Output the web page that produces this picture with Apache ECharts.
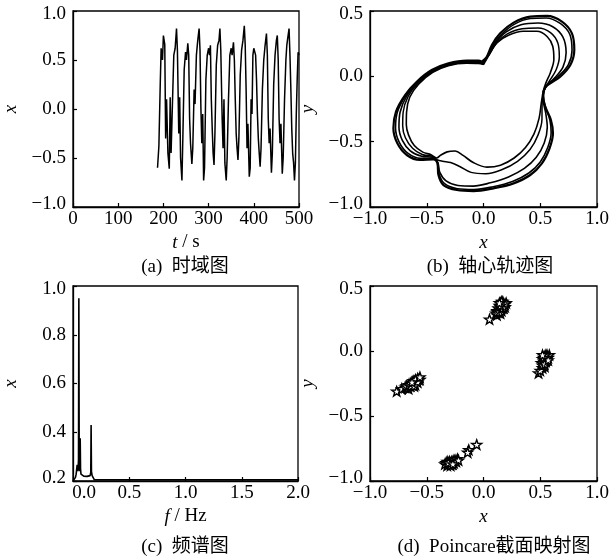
<!DOCTYPE html>
<html>
<head>
<meta charset="utf-8">
<script src="https://cdn.jsdelivr.net/npm/echarts@6/dist/echarts.min.js"></script>
<style>
html, body { margin: 0; padding: 0; background: #fff; }
#chart { width: 612px; height: 557px; }
</style>
</head>
<body>
<div id="chart"></div>
<script>
// ---------- (a) displacement time history: [t (s), x] ----------
const timeSeries = [
  [187,-0.60],[189,-0.58],[190,-0.38],[193,0.25],[195,0.62],[198,0.50],[200,0.75],[203,0.66],
  [205,-0.30],[207,0.10],[210,-0.45],[213,-0.61],[215,0.12],[217,-0.45],[220,0.05],[223,0.55],
  [226,0.62],[229,0.82],[231,0.60],[234,-0.25],[236,0.12],[238,-0.50],[241,-0.73],[243,-0.30],
  [246,0.40],[249,0.58],[251,0.50],[254,0.67],[256,0.55],[258,-0.10],[260,-0.35],[263,-0.56],
  [265,-0.40],[268,0.20],[270,0.05],[273,0.55],[276,0.70],[279,0.82],[281,0.60],[283,0.00],
  [285,-0.35],[287,-0.05],[289,-0.73],[291,-0.60],[294,0.30],[297,0.55],[300,0.62],[302,0.55],
  [304,0.65],[306,0.10],[308,-0.20],[310,-0.45],[312,-0.57],[314,-0.25],[317,0.45],[320,0.65],
  [323,0.70],[325,0.82],[327,0.60],[330,-0.10],[332,-0.40],[334,0.10],[336,-0.55],[339,-0.73],
  [341,-0.50],[344,0.10],[347,0.55],[350,0.62],[352,0.55],[355,0.68],[357,0.50],[359,0.10],
  [361,-0.25],[363,-0.40],[365,-0.52],[367,-0.30],[370,0.35],[373,0.60],[376,0.70],[379,0.85],
  [381,0.65],[383,0.20],[385,-0.40],[387,-0.15],[390,-0.69],[392,-0.60],[394,0.10],[396,-0.05],
  [398,0.55],[400,0.62],[402,0.60],[404,0.55],[406,0.30],[408,-0.05],[410,-0.30],[412,-0.45],
  [414,-0.59],[416,-0.40],[419,0.20],[422,0.50],[425,0.65],[428,0.77],[430,0.55],[432,-0.10],
  [434,-0.35],[436,-0.20],[439,-0.65],[441,-0.45],[444,0.25],[447,0.55],[450,0.70],[452,0.75],
  [454,0.50],[456,-0.10],[458,-0.35],[460,-0.15],[463,-0.66],[465,-0.50],[468,0.10],[471,0.50],
  [473,0.65],[475,0.72],[478,0.82],[480,0.55],[482,0.20],[484,-0.20],[486,-0.45],[488,-0.55],
  [490,-0.73],[492,-0.55],[494,-0.05],[496,0.30],[498,0.58],[500,0.55]
];

// ---------- (b) shaft-centre orbit: successive revolutions [x, y], outermost first ----------
const orbitLoopA = [
  [-0.015,0.112],[0.029,0.150],[0.074,0.240],[0.147,0.329],[0.265,0.411],[0.412,0.457],[0.559,0.462],
  [0.691,0.418],[0.779,0.329],[0.800,0.202],[0.765,0.087],[0.676,-0.003],[0.588,-0.054],[0.544,-0.084],
  [0.524,-0.143],[0.544,-0.232],[0.594,-0.334],[0.612,-0.436],[0.582,-0.551],[0.515,-0.666],[0.412,-0.755],
  [0.265,-0.819],[0.088,-0.857],[-0.088,-0.878],[-0.235,-0.870],[-0.353,-0.832],[-0.397,-0.755],
  [-0.406,-0.666],[-0.441,-0.635],[-0.559,-0.640],[-0.676,-0.602],[-0.759,-0.513],[-0.794,-0.398],
  [-0.771,-0.270],[-0.691,-0.143],[-0.588,-0.041],[-0.456,0.048],[-0.309,0.099],[-0.147,0.120],
  [-0.044,0.120],[-0.015,0.112]
];
const orbitLoopD = [
  [-0.012,0.105],[0.035,0.150],[0.082,0.235],[0.155,0.318],[0.270,0.398],[0.412,0.442],[0.552,0.447],
  [0.676,0.405],[0.760,0.322],[0.780,0.200],[0.748,0.090],[0.665,0.005],[0.585,-0.048],[0.540,-0.090],
  [0.527,-0.150],[0.546,-0.235],[0.585,-0.335],[0.596,-0.430],[0.566,-0.545],[0.500,-0.655],[0.400,-0.740],
  [0.255,-0.805],[0.085,-0.845],[-0.085,-0.866],[-0.230,-0.860],[-0.343,-0.822],[-0.392,-0.748],
  [-0.404,-0.662],[-0.445,-0.628],[-0.555,-0.628],[-0.664,-0.590],[-0.742,-0.505],[-0.775,-0.395],
  [-0.758,-0.272],[-0.684,-0.145],[-0.585,-0.045],[-0.455,0.042],[-0.310,0.093],[-0.150,0.113],
  [-0.045,0.113],[-0.012,0.105]
];
const orbitLoopB = [
  [-0.008,0.100],[0.040,0.158],[0.100,0.250],[0.200,0.340],[0.330,0.395],[0.480,0.408],[0.610,0.380],
  [0.700,0.300],[0.728,0.180],[0.700,0.070],[0.630,-0.010],[0.560,-0.070],[0.530,-0.120],[0.528,-0.190],
  [0.548,-0.280],[0.562,-0.390],[0.535,-0.510],[0.465,-0.620],[0.360,-0.705],[0.220,-0.770],[0.060,-0.815],
  [-0.090,-0.840],[-0.225,-0.835],[-0.330,-0.800],[-0.385,-0.735],[-0.402,-0.660],[-0.448,-0.620],
  [-0.545,-0.612],[-0.645,-0.570],[-0.715,-0.490],[-0.745,-0.390],[-0.735,-0.275],[-0.676,-0.150],
  [-0.582,-0.050],[-0.452,0.038],[-0.310,0.088],[-0.150,0.108],[-0.045,0.108],[-0.008,0.100]
];
const orbitLoopE = [
  [-0.004,0.095],[0.045,0.160],[0.110,0.252],[0.210,0.325],[0.340,0.365],[0.480,0.370],[0.590,0.335],
  [0.655,0.255],[0.668,0.150],[0.640,0.050],[0.585,-0.030],[0.545,-0.085],[0.525,-0.140],[0.516,-0.220],
  [0.515,-0.330],[0.480,-0.450],[0.410,-0.560],[0.300,-0.650],[0.160,-0.715],[0.020,-0.745],[-0.110,-0.735],
  [-0.210,-0.690],[-0.290,-0.660],[-0.360,-0.650],[-0.405,-0.640],[-0.455,-0.612],[-0.540,-0.598],
  [-0.625,-0.550],[-0.688,-0.470],[-0.712,-0.380],[-0.708,-0.275],[-0.665,-0.155],[-0.578,-0.055],
  [-0.450,0.034],[-0.310,0.085],[-0.150,0.104],[-0.045,0.103],[-0.004,0.095]
];
const orbitLoopC = [
  [0.000,0.090],[0.050,0.165],[0.120,0.258],[0.220,0.315],[0.350,0.345],[0.470,0.345],[0.560,0.305],
  [0.610,0.230],[0.620,0.130],[0.590,0.030],[0.550,-0.050],[0.528,-0.110],[0.510,-0.200],[0.490,-0.320],
  [0.445,-0.440],[0.370,-0.545],[0.270,-0.625],[0.150,-0.680],[0.030,-0.695],[-0.090,-0.660],
  [-0.180,-0.605],[-0.250,-0.572],[-0.320,-0.578],[-0.380,-0.605],[-0.412,-0.625],[-0.462,-0.600],
  [-0.535,-0.580],[-0.610,-0.530],[-0.660,-0.450],[-0.680,-0.370],[-0.678,-0.275],[-0.650,-0.160],
  [-0.572,-0.060],[-0.447,0.030],[-0.310,0.081],[-0.150,0.100],[-0.045,0.098],[0.000,0.090]
];

// ---------- (c) amplitude spectrum: [f (Hz), amplitude] ----------
const spectrum = [
  [0.000,0.200],[0.008,0.203],[0.015,0.208],[0.022,0.215],[0.028,0.228],[0.033,0.250],[0.037,0.266],
  [0.041,0.255],[0.045,0.240],[0.049,0.290],[0.052,0.950],[0.055,0.320],[0.058,0.260],[0.061,0.240],
  [0.064,0.375],[0.067,0.250],[0.071,0.228],[0.080,0.222],[0.095,0.220],[0.110,0.219],[0.125,0.219],
  [0.140,0.220],[0.152,0.222],[0.158,0.235],[0.161,0.430],[0.164,0.240],[0.170,0.222],[0.180,0.218],
  [0.186,0.214],[0.190,0.205],[0.30,0.205],[0.50,0.205],[0.80,0.205],[1.10,0.205],[1.40,0.205],
  [1.70,0.205],[2.00,0.205]
];

// ---------- (d) Poincaré section points, one list per cluster [x, y] ----------
const poincareUpper = [
  [0.053,0.244],[0.118,0.277],[0.13,0.30],[0.14,0.32],[0.15,0.34],[0.16,0.36],[0.15,0.37],[0.17,0.35],
  [0.18,0.33],[0.16,0.31],[0.14,0.35],[0.17,0.38],[0.19,0.34],[0.13,0.33],[0.12,0.31],[0.15,0.29],
  [0.11,0.29],[0.12,0.30],[0.14,0.30],[0.16,0.33],[0.18,0.36],[0.20,0.37],[0.19,0.36],[0.17,0.33],
  [0.15,0.35],[0.16,0.38],[0.14,0.37]
];
const poincareRight = [
  [0.485,-0.17],[0.52,-0.06],[0.54,-0.04],[0.56,-0.03],[0.55,-0.08],[0.53,-0.10],[0.52,-0.13],
  [0.54,-0.12],[0.57,-0.05],[0.58,-0.03],[0.50,-0.15],[0.55,-0.06],[0.53,-0.08],[0.51,-0.09],
  [0.52,-0.11],[0.54,-0.07],[0.56,-0.05],[0.55,-0.03],[0.53,-0.05],[0.54,-0.10],[0.57,-0.07],[0.52,-0.03]
];
const poincareLeft = [
  [-0.765,-0.31],[-0.72,-0.29],[-0.67,-0.28],[-0.65,-0.27],[-0.63,-0.26],[-0.61,-0.24],[-0.59,-0.23],
  [-0.57,-0.22],[-0.62,-0.25],[-0.60,-0.26],[-0.64,-0.25],[-0.58,-0.21],[-0.56,-0.22],[-0.66,-0.29],
  [-0.69,-0.28],[-0.68,-0.27],[-0.66,-0.26],[-0.64,-0.27],[-0.62,-0.23],[-0.60,-0.22],[-0.58,-0.24],
  [-0.56,-0.20],[-0.61,-0.27],[-0.63,-0.24]
];
const poincareLower = [
  [-0.06,-0.72],[-0.13,-0.76],[-0.14,-0.78],[-0.33,-0.86],[-0.31,-0.87],[-0.29,-0.86],[-0.27,-0.85],
  [-0.25,-0.84],[-0.23,-0.83],[-0.30,-0.85],[-0.28,-0.87],[-0.32,-0.85],[-0.26,-0.86],[-0.34,-0.87],
  [-0.32,-0.88],[-0.30,-0.87],[-0.28,-0.85],[-0.26,-0.84],[-0.24,-0.85],[-0.22,-0.84],[-0.29,-0.88],
  [-0.31,-0.86],[-0.27,-0.87]
];

// ---------- axis ranges / tick steps ----------
const timeRange = [0, 500], timeStep = 100;
const dispRange = [-1, 1], dispStep = 0.5;
const orbitXRange = [-1, 1], orbitYRange = [-1, 0.5], orbitStep = 0.5;
const freqRange = [0, 2], freqStep = 0.5;
const ampRange = [0.2, 1.0], ampStep = 0.2;

const captions = ['(a)  时域图', '(b)  轴心轨迹图', '(c)  频谱图', '(d)  Poincare截面映射图'];

const SERIF = "'Liberation Serif', 'Times New Roman', serif";
const CAPTION_FONT = "'Liberation Serif', 'Noto Sans CJK SC', serif";
const FS = 19;

const chart = echarts.init(document.getElementById('chart'), null, { renderer: 'canvas' });

const fmt1 = v => (v < -1e-9 ? '\u2212' : '') + Math.abs(v).toFixed(1);

function baseAxis(gridIndex, range, step) {
  return {
    gridIndex, type: 'value', min: range[0], max: range[1], interval: step,
    axisLine: { show: true, onZero: false, lineStyle: { color: '#000', width: 1.3 } },
    axisTick: { show: true, inside: true, length: 4, lineStyle: { color: '#000', width: 1.2 } },
    splitLine: { show: false },
    axisLabel: { color: '#000', fontFamily: SERIF, fontSize: FS }
  };
}

function xAxisCfg(gridIndex, range, step, fmt, name, shiftFirst) {
  const a = baseAxis(gridIndex, range, step);
  a.position = 'bottom';
  a.axisLabel.margin = 3;
  a.axisLabel.formatter = v => {
    const s = fmt(v);
    return (shiftFirst && Math.abs(v - range[0]) < 1e-9) ? '{first|' + s + '}' : s;
  };
  a.axisLabel.rich = { first: { fontFamily: SERIF, fontSize: FS, color: '#000', padding: [0, 0, 0, 22] } };
  a.name = name;
  a.nameLocation = 'middle';
  a.nameGap = 26;
  a.nameTextStyle = {
    color: '#000', fontFamily: SERIF, fontSize: FS,
    rich: { i: { fontStyle: 'italic', fontFamily: SERIF, fontSize: FS, color: '#000' } }
  };
  return a;
}

function yAxisCfg(gridIndex, range, step, name) {
  const a = baseAxis(gridIndex, range, step);
  a.position = 'left';
  a.axisLabel.margin = 7;
  a.axisLabel.formatter = v => {
    const s = fmt1(v);
    if (Math.abs(v - range[1]) < 1e-9) return '{hi|' + s + '}';
    if (Math.abs(v - range[0]) < 1e-9) return '{lo|' + s + '}';
    return s;
  };
  a.axisLabel.rich = {
    hi: { fontFamily: SERIF, fontSize: FS, color: '#000', padding: [7, 0, 0, 0] },
    lo: { fontFamily: SERIF, fontSize: FS, color: '#000', padding: [0, 0, 6, 0] }
  };
  a.name = name;
  a.nameLocation = 'middle';
  a.nameGap = 53;
  a.nameTextStyle = { color: '#000', fontFamily: SERIF, fontSize: FS, fontStyle: 'italic' };
  return a;
}

const gridStyle = { show: true, borderColor: '#000', borderWidth: 1.3, backgroundColor: 'transparent' };
const grids = [
  Object.assign({ left: 72, top: 11, width: 227, height: 196 }, gridStyle),
  Object.assign({ left: 370, top: 11, width: 227, height: 196 }, gridStyle),
  Object.assign({ left: 72, top: 286, width: 226, height: 195 }, gridStyle),
  Object.assign({ left: 370, top: 286, width: 227, height: 195 }, gridStyle)
];

// five-pointed star outline used for the section points
const STAR = 'path://M0,-10L2.35,-3.24L9.51,-3.09L3.8,1.24L5.88,8.09L0,4L-5.88,8.09L-3.8,1.24L-9.51,-3.09L-2.35,-3.24Z';

const lineBase = { type: 'line', showSymbol: false, symbol: 'none', silent: true, animation: false };

function orbitSeries(data, width) {
  return Object.assign({}, lineBase, { xAxisIndex: 1, yAxisIndex: 1, data, smooth: 0.35,
    lineStyle: { color: '#000', width } });
}

function starSeries(data) {
  return {
    type: 'scatter', xAxisIndex: 3, yAxisIndex: 3, data,
    symbol: STAR, symbolSize: 10, symbolKeepAspect: true,
    itemStyle: { color: '#fff', borderColor: '#000', borderWidth: 1.4, opacity: 1 },
    silent: true, animation: false
  };
}

const captionPos = [[185, 267], [490, 267], [185, 547], [494, 547]];

const option = {
  backgroundColor: '#fff',
  animation: false,
  grid: grids,
  xAxis: [
    xAxisCfg(0, timeRange, timeStep, v => String(v), '{i|t} / s', false),
    xAxisCfg(1, orbitXRange, orbitStep, fmt1, '{i|x}', false),
    xAxisCfg(2, freqRange, freqStep, fmt1, '{i|f} / Hz', true),
    xAxisCfg(3, orbitXRange, orbitStep, fmt1, '{i|x}', false)
  ],
  yAxis: [
    yAxisCfg(0, dispRange, dispStep, 'x'),
    yAxisCfg(1, orbitYRange, orbitStep, 'y'),
    yAxisCfg(2, ampRange, ampStep, 'x'),
    yAxisCfg(3, orbitYRange, orbitStep, 'y')
  ],
  series: [
    Object.assign({}, lineBase, { xAxisIndex: 0, yAxisIndex: 0, data: timeSeries,
      lineStyle: { color: '#000', width: 1.5 } }),
    orbitSeries(orbitLoopA, 2.2),
    orbitSeries(orbitLoopD, 1.6),
    orbitSeries(orbitLoopB, 1.6),
    orbitSeries(orbitLoopE, 1.5),
    orbitSeries(orbitLoopC, 1.6),
    Object.assign({}, lineBase, { xAxisIndex: 2, yAxisIndex: 2, data: spectrum,
      lineStyle: { color: '#000', width: 1.6 } }),
    starSeries(poincareUpper),
    starSeries(poincareRight),
    starSeries(poincareLeft),
    starSeries(poincareLower)
  ],
  graphic: captions.map((t, i) => ({
    type: 'text', x: captionPos[i][0], y: captionPos[i][1], silent: true,
    style: { text: t, fill: '#000', font: FS + 'px ' + CAPTION_FONT, align: 'center', verticalAlign: 'middle' }
  }))
};

chart.setOption(option);
</script>
</body>
</html>
